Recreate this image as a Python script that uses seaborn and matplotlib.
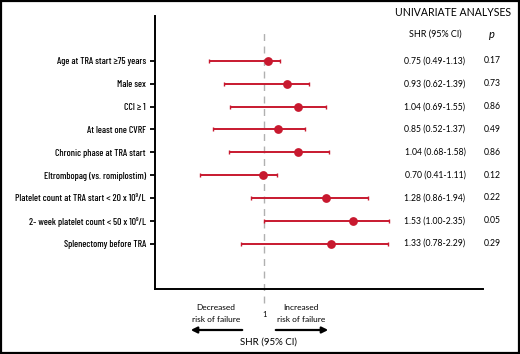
import matplotlib
matplotlib.use('Agg')
import matplotlib.pyplot as plt
import pandas as pd
import seaborn as sns
from matplotlib.patches import Rectangle, FancyArrowPatch

# Row labels (top to bottom)
factors = [
    "Age at TRA start \u226575 years",
    "Male sex",
    "CCI \u2265 1",
    "At least one CVRF",
    "Chronic phase at TRA start",
    "Eltrombopag (vs. romiplostim)",
    "Platelet count at TRA start < 20 x 10\u2079/L",
    "2- week platelet count < 50 x 10\u2079/L",
    "Splenectomy before TRA",
]

# Positions as drawn in the figure (SHR units)
shr_drawn = [1.02, 1.135, 1.20, 1.08, 1.20, 0.99, 1.36, 1.52, 1.39]
lo_drawn = [0.675, 0.76, 0.80, 0.70, 0.79, 0.62, 0.92, 1.00, 0.86]
hi_drawn = [1.09, 1.26, 1.36, 1.24, 1.38, 1.075, 1.61, 1.735, 1.73]

# Table columns as printed
shr_text = ["0.75 (0.49-1.13)", "0.93 (0.62-1.39)", "1.04 (0.69-1.55)",
            "0.85 (0.52-1.37)", "1.04 (0.68-1.58)", "0.70 (0.41-1.11)",
            "1.28 (0.86-1.94)", "1.53 (1.00-2.35)", "1.33 (0.78-2.29)"]
p_text = ["0.17", "0.73", "0.86", "0.49", "0.86", "0.12", "0.22", "0.05", "0.29"]

RED = "#c8192f"
W, H = 520, 354

sns.set_theme(style="ticks")
plt.rcParams['font.family'] = ['Lato', 'Liberation Sans', 'DejaVu Sans']
plt.rcParams['text.color'] = 'black'
plt.rcParams['ytick.color'] = 'black'
plt.rcParams['ytick.labelcolor'] = 'black'
NARROW = ['Barlow Condensed', 'Roboto Condensed', 'Liberation Sans', 'DejaVu Sans']

df = pd.DataFrame({"factor": factors, "shr": shr_drawn,
                   "lo": lo_drawn, "hi": hi_drawn})

fig = plt.figure(figsize=(W / 100, H / 100), dpi=100)
ax = fig.add_axes([155 / W, 1 - 289 / H, (483 - 155) / W, (289 - 16) / H])

ypos = list(range(len(factors)))
ax.errorbar(df["shr"], ypos,
            xerr=[df["shr"] - df["lo"], df["hi"] - df["shr"]],
            fmt="none", ecolor=RED, elinewidth=1.4, capsize=1.6, capthick=1.0,
            zorder=2)
sns.scatterplot(data=df, x="shr", y=ypos, color=RED, s=40, linewidth=0,
                ax=ax, zorder=3)

ax.set_xlim(0.357, 2.286)
ax.set_ylim(9.99, -1.97)
ax.set_yticks(ypos)
ax.set_yticklabels(factors, family=NARROW, fontsize=7.0, weight="medium",
                   color="black")
ax.set_xticks([])
ax.set_xlabel("")
ax.set_ylabel("")
sns.despine(ax=ax, top=True, right=True)
for s in ["left", "bottom"]:
    ax.spines[s].set_linewidth(1.4)
    ax.spines[s].set_color("black")
ax.tick_params(axis="y", length=3.5, width=1.3, pad=3, color="black")

# reference line at 1
ax.axvline(1, ymin=-0.051, ymax=0.956, color="#b0b0b0", lw=1.0,
           dashes=(5, 4), clip_on=False, zorder=1)
ax.text(1, -0.095, "1", transform=ax.get_xaxis_transform(), ha="center",
        va="center", fontsize=5.5)

# table columns
tr = ax.get_yaxis_transform()
for i in ypos:
    ax.text((435 - 155) / 328, i, shr_text[i], transform=tr, ha="center",
            va="center", fontsize=6.2, clip_on=False)
    ax.text((492 - 155) / 328, i, p_text[i], transform=tr, ha="center",
            va="center", fontsize=6.2, clip_on=False)


def fx(px):
    return px / W


def fy(py):
    return 1 - py / H


fig.text(fx(453), fy(12), "UNIVARIATE ANALYSES", ha="center", va="center",
         fontsize=7.6)
fig.text(fx(435), fy(34), "SHR (95% CI)", ha="center", va="center",
         fontsize=6.5)
fig.text(fx(492), fy(34), "p", ha="center", va="center", fontsize=8,
         style="italic")

# direction arrows
for x0, x1 in [(245, 188), (273, 331)]:
    fig.add_artist(FancyArrowPatch(
        (fx(x0), fy(330)), (fx(x1), fy(330)), transform=fig.transFigure,
        arrowstyle="-|>", mutation_scale=9, lw=1.6, color="black"))
fig.text(fx(216), fy(307), "Decreased", ha="center", va="center", fontsize=6)
fig.text(fx(216), fy(320), "risk of failure", ha="center", va="center", fontsize=6)
fig.text(fx(301), fy(307), "Increased", ha="center", va="center", fontsize=6)
fig.text(fx(301), fy(320), "risk of failure", ha="center", va="center", fontsize=6)
fig.text(fx(268), fy(342), "SHR (95% CI)", ha="center", va="center", fontsize=7)

# outer frame
fig.add_artist(Rectangle((0.002, 0.003), 0.996, 0.994, transform=fig.transFigure,
                         fill=False, edgecolor="black", lw=1.6))

fig.savefig("out.png", dpi=100)
